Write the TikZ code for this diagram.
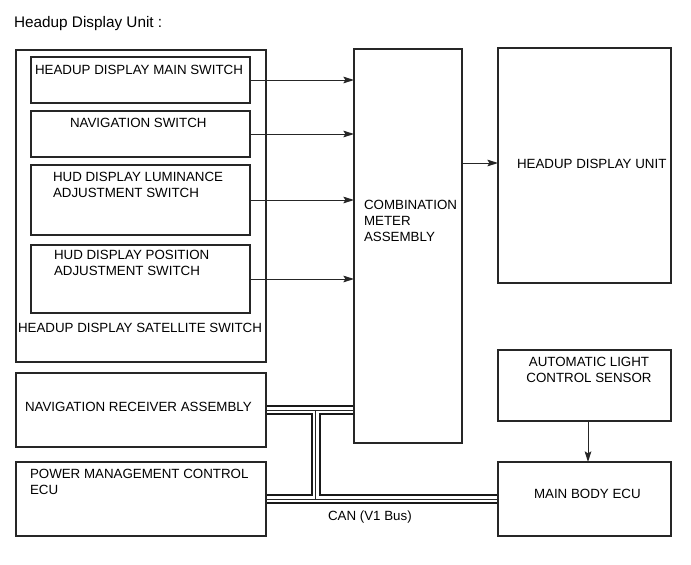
\documentclass[tikz,border=0pt]{standalone}
\usepackage{fontspec}
\setmainfont{Liberation Sans}
\usetikzlibrary{fit,arrows.meta,backgrounds}
\begin{document}
\begin{tikzpicture}[x=0.75pt,y=-0.75pt,
  box/.style={draw=black!85,line width=0.8pt,inner sep=0pt,outer sep=0pt,rectangle},
  lbl/.style={inner sep=0pt,outer sep=0pt,anchor=base west,align=left,
    font=\fontsize{10pt}{12pt}\selectfont,text=black},
  arr/.style={draw=black!85,line width=0.7pt,-{Stealth[length=8pt,width=5pt,inset=1.5pt]}},
  bus/.style={draw=black!90,line width=1.5pt,double=white,double distance=4.5pt},
  busc/.style={draw=black!85,line width=0.6pt}]
\useasboundingbox (0,0) rectangle (691,564);

% boxes
\node[box,fit={(16,50) (266,362)}] (sat) {};
\node[box,fit={(31,57) (250,103)}] (ms) {};
\node[box,fit={(31,111) (250,157)}] (ns) {};
\node[box,fit={(31,165) (250,235)}] (lum) {};
\node[box,fit={(31,245) (250,313)}] (pos) {};
\node[box,fit={(16,373) (266,447)}] (navr) {};
\node[box,fit={(16,462) (266,536)}] (pm) {};
\node[box,fit={(354,49) (462,443)}] (meter) {};
\node[box,fit={(498,48) (671,283)}] (hud) {};
\node[box,fit={(498,350) (671,421)}] (als) {};
\node[box,fit={(498,462) (671,536)}] (mb) {};

% texts (multi-line nodes are anchored at the baseline of their last line)
\node[lbl,font=\fontsize{11.5pt}{14pt}\selectfont] (title) at (14,27) {Headup Display Unit :};
\node[lbl] (tms) at (35,74) {HEADUP DISPLAY MAIN SWITCH};
\node[lbl] (tns) at (70,127) {NAVIGATION SWITCH};
\node[lbl] (tlum) at (53,197) {HUD DISPLAY LUMINANCE\\ADJUSTMENT SWITCH};
\node[lbl] (tpos) at (54,275) {HUD DISPLAY POSITION\\ADJUSTMENT SWITCH};
\node[lbl] (tsat) at (18,332) {HEADUP DISPLAY SATELLITE SWITCH};
\node[lbl] (tnavr) at (25,411) {NAVIGATION RECEIVER ASSEMBLY};
\node[lbl] (tpm) at (30,494) {POWER MANAGEMENT CONTROL\\ECU};
\node[lbl] (tmeter) at (364,241) {COMBINATION\\METER\\ASSEMBLY};
\node[lbl] (thud) at (517,168) {HEADUP DISPLAY UNIT};
\node[lbl,anchor=base,align=center] (tals) at (589,382) {AUTOMATIC LIGHT\\CONTROL SENSOR};
\node[lbl] (tmb) at (534,498) {MAIN BODY ECU};
\node[lbl] (tcan) at (328,520) {CAN (V1 Bus)};

% arrows
\draw[arr] (ms.east) -- (ms.east -| meter.west);
\draw[arr] (ns.east) -- (ns.east -| meter.west);
\draw[arr] (lum.east) -- (lum.east -| meter.west);
\draw[arr] (pos.east) -- (pos.east -| meter.west);
\coordinate (hudy) at (0,163);
\draw[arr] (meter.east |- hudy) -- (hud.west |- hudy);
\coordinate (alsx) at (588,0);
\draw[arr] (alsx |- als.south) -- (alsx |- mb.north);

% CAN bus
\coordinate (busv) at (315.5,0);
\begin{scope}[on background layer]
\draw[bus] (navr.east) -- (navr.east -| meter.west)
           (busv |- navr.east) -- (busv |- pm.east)
           (pm.east) -- (mb.west);
\draw[busc] (navr.east) -- (navr.east -| meter.west)
           (busv |- navr.east) -- (busv |- pm.east)
           (pm.east) -- (mb.west);
\end{scope}
\end{tikzpicture}
\end{document}
